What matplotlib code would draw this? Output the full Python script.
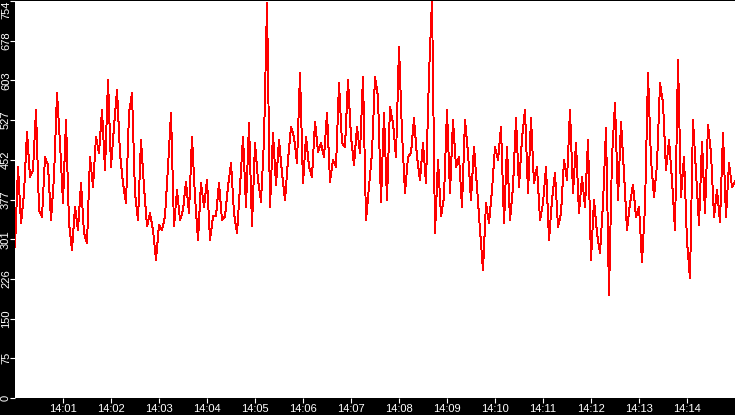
import numpy as np
import matplotlib
matplotlib.use("Agg")
import matplotlib.pyplot as plt

# readings, one every 3.75 s, split by the stretch of chart they come from
vals_1400 = [287, 439, 332, 389, 506, 420, 433, 547, 357, 344, 458, 442, 338, 420,
             579, 484, 370, 528, 332, 281, 363, 319, 408, 313, 294, 458, 401, 496,
             465, 547, 433, 604, 439, 515, 585, 465, 408, 370, 541, 579, 389, 338]
vals_1402 = [490, 401, 326, 351, 319, 262, 329, 319, 345, 439, 541, 326, 395, 338,
             357, 411, 351, 496, 382, 300, 408, 363, 414, 300, 345, 345, 408, 338,
             345, 401, 446, 351, 313, 401, 496, 363, 522, 326, 484, 414]
vals_1405 = [373, 490, 750, 363, 503, 405, 490, 427, 376, 452, 515, 496, 446, 617,
             408, 496, 439, 420, 525, 468, 484, 458, 541, 411, 452, 439, 598, 484,
             477, 604, 496, 443, 515, 465, 610, 338, 401, 465, 610, 572]
vals_1407 = [373, 541, 376, 553, 522, 458, 667, 503, 389, 458, 465, 531, 458, 414,
             484, 408, 614, 756, 313, 452, 345, 382, 547, 389, 528, 439, 458, 363,
             528, 465, 376, 477, 401, 319, 243, 370, 332, 395, 477, 452]
vals_1410 = [515, 332, 477, 338, 401, 531, 401, 493, 547, 389, 531, 408, 439, 338,
             370, 439, 300, 376, 427, 325, 351, 452, 414, 547, 389, 484, 351, 420,
             363, 490, 262, 376, 313, 275, 370, 512, 196, 458, 560, 376]
vals_1412 = [525, 427, 319, 370, 405, 344, 363, 259, 363, 617, 452, 382, 443, 598,
             560, 433, 490, 414, 319, 642, 382, 458, 297, 227, 528, 427, 329, 487,
             351, 519, 465, 344, 395, 335, 503, 344, 446, 401, 411]

SAMPLE_STEP = 3.75  # seconds
X_MAX = 900
Y_MAX = 754
y_tick_labels = ["0", "75", "150", "226", "301", "377", "452", "527", "603", "678", "754"]
x_tick_minutes = list(range(1, 15))
x_tick_labels = ["14:%02d" % m for m in x_tick_minutes]

values = vals_1400 + vals_1402 + vals_1405 + vals_1407 + vals_1410 + vals_1412
seconds = np.arange(len(values)) * SAMPLE_STEP

plt.rcParams["font.family"] = ["Liberation Sans", "DejaVu Sans"]

fig = plt.figure(figsize=(7.35, 4.15), dpi=100, facecolor="black")
ax = fig.add_axes([15 / 735, 17 / 415, 720 / 735, 397 / 415])
ax.set_facecolor("white")

ax.plot(seconds, values, color="#ff0000", linewidth=0.7, antialiased=False)

ax.set_xlim(0, X_MAX)
ax.set_ylim(0, Y_MAX)

ax.set_xticks([m * 60 for m in x_tick_minutes])
ax.set_xticklabels(x_tick_labels)
ax.set_yticks(np.linspace(0, Y_MAX, len(y_tick_labels)))
ax.set_yticklabels(y_tick_labels, rotation=90, va="center", ha="center")
ax.get_yticklabels()[-1].set_va("top")

# 5 px ticks, labels close under/left of them
ax.tick_params(colors="white", length=3.6, width=0.8, labelsize=8)
ax.tick_params(axis="x", pad=0.6)
ax.tick_params(axis="y", pad=2.9)
for s in ax.spines.values():
    s.set_visible(False)

fig.savefig("out.png", dpi=100, facecolor="black")
